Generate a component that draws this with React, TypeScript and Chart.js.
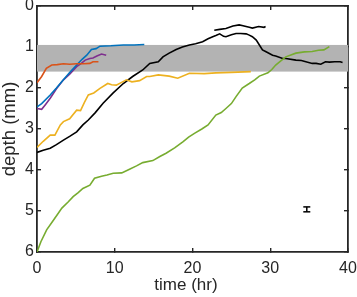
import React, { useEffect, useRef } from "react";
import { Chart, registerables } from "chart.js";

Chart.register(...registerables);

const xTicks = [0, 10, 20, 30, 40];
const yTicks = [0, 1, 2, 3, 4, 5, 6];

const bandTop = 0.95;
const bandBottom = 1.6;

const blueT = [0, 0.6, 1.7, 2.5, 3.4, 4.2, 5.1, 5.8, 6.4, 7.0, 7.6, 8.1, 9.5, 11.1, 12.5, 13.8];
const blueD = [2.46, 2.38, 2.17, 2.0, 1.8, 1.62, 1.44, 1.3, 1.2, 1.06, 1.04, 0.98, 0.97, 0.95, 0.95, 0.94];

const orangeT = [0, 0.6, 1.2, 1.9, 2.6, 3.4, 4.2, 5.1, 6.0, 6.8, 7.2, 7.9];
const orangeD = [1.87, 1.72, 1.52, 1.44, 1.43, 1.41, 1.42, 1.41, 1.41, 1.4, 1.36, 1.36];

const purpleT = [0, 0.6, 1.1, 1.7, 2.5, 3.4, 4.2, 5.1, 5.7, 6.2, 6.8, 7.2, 7.7, 8.3, 8.9];
const purpleD = [2.5, 2.52, 2.4, 2.25, 2.02, 1.8, 1.66, 1.48, 1.4, 1.32, 1.28, 1.27, 1.22, 1.17, 1.2];

const yellowT = [0, 0.8, 1.7, 2.3, 3.0, 3.4, 4.2, 5.1, 5.6, 6.1, 6.6, 7.3, 8.1, 9.1, 9.6, 10.2, 11.0, 11.5, 12.2, 13.2, 14.1, 14.5, 15.6, 17, 18.1, 19.6, 21.5, 23, 25, 27.5];
const yellowD = [3.45, 3.3, 3.15, 3.15, 2.9, 2.82, 2.75, 2.54, 2.55, 2.35, 2.17, 2.12, 2.01, 1.89, 1.92, 1.93, 1.85, 1.8, 1.85, 1.82, 1.72, 1.72, 1.68, 1.71, 1.76, 1.64, 1.65, 1.63, 1.62, 1.6];

const blackT = [0, 0.8, 1.7, 2.5, 3.4, 4.2, 5.1, 5.9, 6.6, 7.5, 8.5, 9.8, 11.1, 12.3, 13.6, 14.5, 15.6, 16.2, 17.0, 17.9, 18.7, 19.6, 20.4, 21.3, 22.0, 22.6, 23.0, 23.5, 24.0, 24.3, 25.0, 25.6, 26.2, 26.9, 27.3, 27.7, 28.2, 28.6, 29.0, 29.4, 30.3, 30.7, 31.6, 32.0, 33.3, 34.0, 35.4, 35.9, 36.5, 37.1, 37.6, 38.3, 39.0, 39.3];
const blackD = [3.57, 3.52, 3.47, 3.38, 3.27, 3.18, 3.07, 2.9, 2.78, 2.6, 2.37, 2.12, 1.89, 1.72, 1.56, 1.4, 1.36, 1.24, 1.15, 1.06, 1.0, 0.95, 0.92, 0.87, 0.8, 0.75, 0.72, 0.68, 0.74, 0.75, 0.7, 0.67, 0.67, 0.68, 0.71, 0.75, 0.83, 0.95, 1.07, 1.11, 1.2, 1.22, 1.28, 1.28, 1.32, 1.33, 1.4, 1.4, 1.42, 1.36, 1.37, 1.36, 1.36, 1.38];

const black2T = [22.8, 23.5, 24.3, 25.2, 26.0, 26.5, 27.3, 27.7, 28.5, 29.2, 29.4];
const black2D = [0.59, 0.57, 0.55, 0.49, 0.46, 0.48, 0.52, 0.54, 0.5, 0.52, 0.5];

const greenT = [0, 0.5, 1.24, 2.2, 3.2, 4.0, 4.65, 5.3, 5.9, 6.8, 7.4, 8.3, 9.0, 9.8, 10.9, 11.9, 12.8, 13.6, 14.9, 15.8, 16.6, 17.7, 18.8, 19.5, 20.3, 21.2, 22, 23, 23.7, 24.3, 25.0, 25.6, 26.4, 27.3, 28.0, 28.6, 29.7, 30.2, 30.7, 31.4, 32, 33.3, 34.4, 35.4, 36.2, 36.9, 37.6];
const greenD = [6.0, 5.75, 5.46, 5.2, 4.93, 4.78, 4.65, 4.55, 4.45, 4.37, 4.2, 4.15, 4.12, 4.08, 4.07, 3.98, 3.9, 3.82, 3.77, 3.67, 3.59, 3.46, 3.31, 3.2, 3.1, 3.0, 2.9, 2.66, 2.6, 2.5, 2.38, 2.21, 2.0, 1.89, 1.8, 1.71, 1.63, 1.55, 1.44, 1.33, 1.24, 1.15, 1.12, 1.11, 1.08, 1.07, 0.99];

const errT = [34.7];
const errD = [4.96];
const errDelta = [0.06];

const pts = (t: number[], d: number[]) => t.map((v, i) => ({ x: v, y: d[i] }));

const AXIS = "#262626";
const FONT = "'Liberation Sans', Arial, Helvetica, sans-serif";

const mkLine = (label: string, t: number[], d: number[], color: string) => ({
  label,
  data: pts(t, d),
  borderColor: color,
  backgroundColor: color,
  borderWidth: 1.6,
  pointRadius: 0,
  tension: 0,
  fill: false,
  xAxisID: "x",
  yAxisID: "y",
});

const decor = {
  id: "decor",
  beforeDatasetsDraw(chart: any) {
    const { ctx, chartArea, scales } = chart;
    const y1 = scales.y.getPixelForValue(bandTop);
    const y2 = scales.y.getPixelForValue(bandBottom);
    ctx.save();
    ctx.fillStyle = "#b3b3b3";
    ctx.fillRect(chartArea.left, y1, chartArea.right - chartArea.left, y2 - y1);
    ctx.restore();
  },
  afterDraw(chart: any) {
    const ctx = chart.ctx;
    const sx = chart.scales.x;
    const sy = chart.scales.y;
    ctx.save();
    ctx.fillStyle = "#000000";
    for (let i = 0; i < errT.length; i++) {
      const x = sx.getPixelForValue(errT[i]);
      const ya = sy.getPixelForValue(errD[i] - errDelta[i]);
      const yb = sy.getPixelForValue(errD[i] + errDelta[i]);
      ctx.fillRect(x - 0.75, ya, 1.5, yb - ya);
      ctx.fillRect(x - 3.5, ya - 0.75, 7, 1.5);
      ctx.fillRect(x - 3.5, yb - 0.75, 7, 1.5);
    }
    ctx.fillStyle = AXIS;
    ctx.textAlign = "center";
    ctx.textBaseline = "middle";
    ctx.font = `17px ${FONT}`;
    ctx.fillText("time (hr)", 186, 285);
    ctx.translate(10, 129);
    ctx.rotate(-Math.PI / 2);
    ctx.font = `18.5px ${FONT}`;
    ctx.fillText("depth (mm)", 0, 0);
    ctx.restore();
  },
};

const TL = -4;

export default function App() {
  const ref = useRef<HTMLCanvasElement | null>(null);
  useEffect(() => {
    if (!ref.current) return;
    const gridInside = {
      display: true,
      drawOnChartArea: false,
      drawTicks: true,
      tickLength: TL,
      color: AXIS,
      lineWidth: 1.4,
    };
    const chart = new Chart(ref.current, {
      type: "line",
      data: {
        datasets: [
          mkLine("green", greenT, greenD, "#77AC30"),
          mkLine("yellow", yellowT, yellowD, "#EDB120"),
          mkLine("black", blackT, blackD, "#000000"),
          mkLine("black2", black2T, black2D, "#000000"),
          mkLine("orange", orangeT, orangeD, "#D95319"),
          mkLine("blue", blueT, blueD, "#0072BD"),
          mkLine("purple", purpleT, purpleD, "#7E2F8E"),
        ],
      },
      options: {
        animation: false,
        responsive: false,
        maintainAspectRatio: false,
        layout: { padding: { top: 0, right: 0, left: 0, bottom: 0 } },
        plugins: { legend: { display: false }, tooltip: { enabled: false } },
        scales: {
          x: {
            type: "linear",
            position: "bottom",
            min: 0,
            max: 40,
            afterFit: (s: any) => {
              s.height = 45;
              s.paddingLeft = 0;
              s.paddingRight = 0;
            },
            afterBuildTicks: (s: any) => {
              s.ticks = xTicks.map((v) => ({ value: v }));
            },
            grid: gridInside,
            border: { display: true, color: AXIS, width: 1.8 },
            ticks: { color: AXIS, font: { family: FONT, size: 16 }, padding: 11, maxRotation: 0 },
          },
          x2: {
            type: "linear",
            position: "top",
            min: 0,
            max: 40,
            afterFit: (s: any) => {
              s.height = 6;
              s.paddingLeft = 0;
              s.paddingRight = 0;
            },
            afterBuildTicks: (s: any) => {
              s.ticks = xTicks.map((v) => ({ value: v }));
            },
            grid: gridInside,
            border: { display: true, color: AXIS, width: 1.8 },
            ticks: { display: false },
          },
          y: {
            type: "linear",
            position: "left",
            reverse: true,
            min: 0,
            max: 6,
            afterFit: (s: any) => {
              s.width = 37;
              s.paddingTop = 0;
              s.paddingBottom = 0;
            },
            afterBuildTicks: (s: any) => {
              s.ticks = yTicks.map((v) => ({ value: v }));
            },
            grid: gridInside,
            border: { display: true, color: AXIS, width: 1.8 },
            ticks: { color: AXIS, font: { family: FONT, size: 16 }, padding: 7 },
          },
          y2: {
            type: "linear",
            position: "right",
            reverse: true,
            min: 0,
            max: 6,
            afterFit: (s: any) => {
              s.width = 9;
              s.paddingTop = 0;
              s.paddingBottom = 0;
            },
            afterBuildTicks: (s: any) => {
              s.ticks = yTicks.map((v) => ({ value: v }));
            },
            grid: gridInside,
            border: { display: true, color: AXIS, width: 1.8 },
            ticks: { display: false },
          },
        },
      },
      plugins: [decor],
    } as any);
    return () => chart.destroy();
  }, []);
  return (
    <div style={{ position: "fixed", left: 0, top: 0, width: 357, height: 297, background: "#fff" }}>
      <canvas ref={ref} width={357} height={297} style={{ width: 357, height: 297 }} />
    </div>
  );
}
